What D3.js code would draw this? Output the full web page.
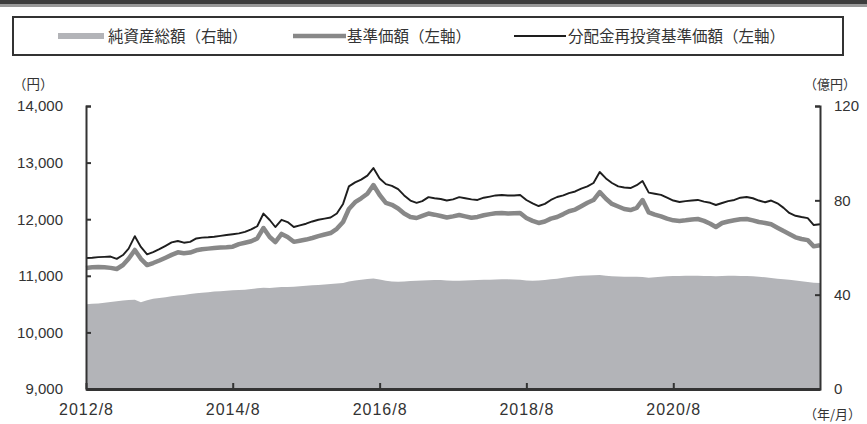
<!DOCTYPE html>
<html>
<head>
<meta charset="utf-8">
<script src="https://cdn.jsdelivr.net/npm/d3@7/dist/d3.min.js"></script>
<style>
  body { margin: 0; background: #fff; }
  svg { display: block; }
  .tick text { font-family: "Liberation Sans", Arial, sans-serif; font-size: 15px; fill: #333; }
  .jp { font-family: "Noto Sans CJK JP", sans-serif; fill: #333; }
</style>
</head>
<body>
<div id="chart"></div>
<script>
// monthly points, 2012/8 .. 2022/8
var startMonth = new Date(2012, 7, 1);
var endMonth = new Date(2022, 7, 1);

// 分配金再投資基準価額 (円, left axis)
var reinvested = [
  11314, 11320, 11330, 11335, 11340, 11300, 11367, 11480, 11700, 11509,
  11380, 11420, 11470, 11530, 11590, 11615, 11585, 11600, 11660, 11675,
  11680, 11690, 11705, 11720, 11735, 11750, 11775, 11820, 11875, 12100,
  11986, 11862, 11990, 11950, 11862, 11890, 11920, 11960, 11990, 12010,
  12030, 12100, 12270, 12580, 12650, 12700, 12770, 12904, 12720, 12620,
  12590, 12530, 12420, 12330, 12290, 12320, 12390, 12370, 12357, 12330,
  12350, 12390, 12370, 12350, 12340, 12380, 12400, 12420, 12427, 12420,
  12420, 12427, 12339, 12280, 12233, 12270, 12340, 12392, 12420, 12460,
  12490, 12540, 12580, 12640, 12834, 12720, 12640, 12580, 12560, 12551,
  12600, 12675, 12470, 12450, 12430, 12380, 12330, 12304, 12320, 12330,
  12340, 12310, 12290, 12251, 12286, 12320, 12340, 12380, 12392, 12370,
  12330, 12300, 12330, 12280, 12200, 12110, 12060, 12039, 12020, 11897,
  11910
];

// 基準価額 (円, left axis)
var navPrice = [
  11138, 11150, 11155, 11150, 11140, 11120, 11191, 11300, 11456, 11300,
  11190, 11226, 11270, 11320, 11370, 11415, 11400, 11410, 11450, 11470,
  11480, 11490, 11500, 11505, 11515, 11560, 11585, 11610, 11660, 11844,
  11685, 11597, 11740, 11685, 11600, 11620, 11640, 11668, 11700, 11730,
  11756, 11830, 11950, 12180, 12300, 12370, 12450, 12604, 12427, 12290,
  12255, 12190, 12100, 12039, 12021, 12060, 12100, 12080, 12056, 12030,
  12050, 12074, 12050, 12025, 12040, 12070, 12090, 12105, 12109, 12100,
  12105, 12109, 12021, 11970, 11933, 11960, 12010, 12039, 12090, 12140,
  12170, 12230, 12290, 12339, 12480, 12360, 12270, 12225, 12180, 12162,
  12200, 12339, 12120, 12080, 12050, 12010, 11980, 11968, 11980, 11995,
  12003, 11970, 11920, 11862, 11933, 11960, 11980, 12000, 12003, 11980,
  11950, 11933, 11910, 11850, 11790, 11740, 11680, 11650, 11630, 11520,
  11540
];

// 純資産総額 (億円, right axis)
var netAssets = [
  35.9, 36.1, 36.3, 36.6, 36.9, 37.2, 37.5, 37.7, 37.8, 36.8,
  37.6, 38.3, 38.6, 38.9, 39.3, 39.6, 39.9, 40.3, 40.6, 40.8,
  41.0, 41.3, 41.5, 41.7, 41.9, 42.0, 42.1, 42.4, 42.7, 42.9,
  42.8, 43.0, 43.2, 43.3, 43.4, 43.6, 43.8, 44.0, 44.1, 44.3,
  44.5, 44.7, 45.0, 45.6, 46.0, 46.3, 46.6, 46.9, 46.4, 45.9,
  45.6, 45.5, 45.6, 45.8, 45.9, 46.0, 46.1, 46.2, 46.2, 46.0,
  45.9, 45.9, 46.0, 46.1, 46.2, 46.3, 46.3, 46.4, 46.5, 46.5,
  46.4, 46.3, 46.0, 45.9, 46.0, 46.2, 46.5, 46.8, 47.2, 47.5,
  47.8, 48.0, 48.1, 48.2, 48.3, 48.0, 47.8, 47.7, 47.6, 47.6,
  47.6, 47.5, 47.2, 47.4, 47.6, 47.8, 47.9, 47.9, 48.0, 48.0,
  48.0, 47.9, 47.9, 47.8, 47.9, 48.0, 48.0, 47.9, 47.9, 47.8,
  47.6, 47.4, 47.1, 46.8, 46.5, 46.3, 46.0, 45.7, 45.4, 45.1,
  45.0
];

var leftTicks = [9000, 10000, 11000, 12000, 13000, 14000];
var rightTicks = [0, 40, 80, 120];
var xTickLabels = ["2012/8", "2014/8", "2016/8", "2018/8", "2020/8"];

var legendLabels = ["純資産総額（右軸）", "基準価額（左軸）", "分配金再投資基準価額（左軸）"];

var W = 867, H = 424;
var margin = {top: 106, right: 47, bottom: 35, left: 86};

var svg = d3.select("#chart").append("svg")
    .attr("width", W)
    .attr("height", H);

// header band
svg.append("rect").attr("x", 0).attr("y", 0).attr("width", W).attr("height", 4).attr("fill", "#3d3d3d");
svg.append("rect").attr("x", 0).attr("y", 4).attr("width", W).attr("height", 3).attr("fill", "#999");

var months = d3.timeMonth.range(startMonth, d3.timeMonth.offset(endMonth, 1));
var parseTick = d3.timeParse("%Y/%m");

var x = d3.scaleTime()
    .domain([startMonth, endMonth])
    .range([margin.left, W - margin.right]);
var yL = d3.scaleLinear()
    .domain([9000, 14000])
    .range([H - margin.bottom, margin.top]);
var yR = d3.scaleLinear()
    .domain([0, 120])
    .range([H - margin.bottom, margin.top]);

var rows = months.map(function (d, i) {
    return {date: d, re: reinvested[i], nav: navPrice[i], na: netAssets[i]};
});

// net assets area
svg.append("path")
    .datum(rows)
    .attr("fill", "#b3b4b8")
    .attr("d", d3.area()
        .x(function (d) { return x(d.date); })
        .y0(yR(0))
        .y1(function (d) { return yR(d.na); }));

// 基準価額
svg.append("path")
    .datum(rows)
    .attr("fill", "none")
    .attr("stroke", "#888")
    .attr("stroke-width", 4.5)
    .attr("stroke-linejoin", "round")
    .attr("d", d3.line()
        .x(function (d) { return x(d.date); })
        .y(function (d) { return yL(d.nav); }));

// 分配金再投資基準価額
svg.append("path")
    .datum(rows)
    .attr("fill", "none")
    .attr("stroke", "#1e1e1e")
    .attr("stroke-width", 1.9)
    .attr("stroke-linejoin", "round")
    .attr("d", d3.line()
        .x(function (d) { return x(d.date); })
        .y(function (d) { return yL(d.re); }));

// axes
var gL = svg.append("g")
    .attr("transform", "translate(" + margin.left + ",0)")
    .call(d3.axisLeft(yL)
        .tickValues(leftTicks)
        .tickFormat(d3.format(","))
        .tickSize(-5)
        .tickSizeOuter(-5)
        .tickPadding(23));

var gR = svg.append("g")
    .attr("transform", "translate(" + (W - margin.right) + ",0)")
    .call(d3.axisRight(yR)
        .tickValues(rightTicks)
        .tickSize(-5)
        .tickSizeOuter(-5)
        .tickPadding(14));

var gB = svg.append("g")
    .attr("transform", "translate(0," + (H - margin.bottom) + ")")
    .call(d3.axisBottom(x)
        .tickValues(xTickLabels.map(function (s) { return parseTick(s); }))
        .tickFormat(function (d, i) { return xTickLabels[i]; })
        .tickSize(-6)
        .tickSizeOuter(0)
        .tickPadding(15));

[gL, gR, gB].forEach(function (g) {
    g.selectAll("path, line").attr("stroke", "#333").attr("stroke-width", 2);
});
gB.select(".domain").attr("stroke-width", 3);
gB.selectAll(".tick text")
    .style("font-size", "16px")
    .style("letter-spacing", "1px");

// axis unit labels
svg.append("text").attr("class", "jp").attr("x", 13).attr("y", 89)
    .style("font-size", "13.5px").text("（円）");
svg.append("text").attr("class", "jp").attr("x", 804).attr("y", 89)
    .style("font-size", "13px").text("（億円）");
svg.append("text").attr("class", "jp").attr("x", 804).attr("y", 419)
    .style("font-size", "13px").text("（年/月）");

// legend
var lg = svg.append("g");
lg.append("rect")
    .attr("x", 13).attr("y", 17).attr("width", 830).attr("height", 38)
    .attr("fill", "#fff").attr("stroke", "#333").attr("stroke-width", 2);

var legendItems = [
    {x0: 58, x1: 104, tx: 108, color: "#b3b4b8", w: 6},
    {x0: 293, x1: 346, tx: 347, color: "#888", w: 4.5},
    {x0: 514, x1: 566, tx: 568, color: "#1e1e1e", w: 1.9}
];
legendItems.forEach(function (it, i) {
    lg.append("line")
        .attr("x1", it.x0).attr("x2", it.x1)
        .attr("y1", 36).attr("y2", 36)
        .attr("stroke", it.color).attr("stroke-width", it.w);
    lg.append("text").attr("class", "jp")
        .attr("x", it.tx).attr("y", 41.5)
        .style("font-size", "15.5px")
        .text(legendLabels[i]);
});
</script>
</body>
</html>
